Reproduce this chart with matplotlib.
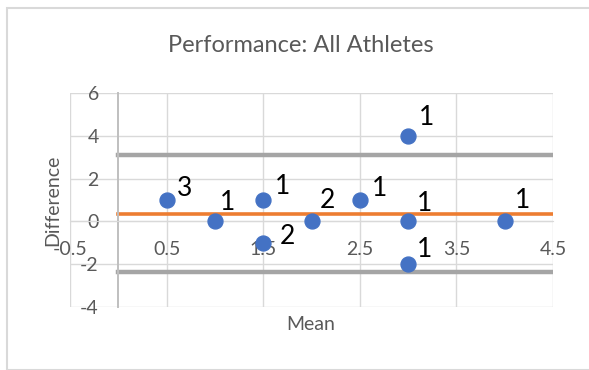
import numpy as np
import matplotlib.pyplot as plt
from matplotlib.patches import Rectangle

# Bland-Altman points: mean of the two measurements vs. their difference,
# with the number of athletes sharing each point
mean_vals = [0.5, 1.0, 1.5, 1.5, 2.0, 2.5, 3.0, 3.0, 3.0, 4.0]
diff_vals = [1, 0, 1, -1, 0, 1, 4, 0, -2, 0]
counts = [3, 1, 1, 2, 2, 1, 1, 1, 1, 1]

# bias and 95% limits of agreement over all athletes
all_diffs = np.repeat(diff_vals, counts)
bias = all_diffs.mean()
sd = all_diffs.std(ddof=1)
upper_loa = bias + 1.96 * sd
lower_loa = bias - 1.96 * sd

# where each count label sits relative to its point (pixels)
label_offsets = [(18, 11), (13, 19), (19, 13), (24, 6), (16, 21),
                 (20, 11), (18, 18), (16, 18), (16, 15), (18, 21)]

plt.rcParams['font.family'] = ['Lato', 'DejaVu Sans']
plt.rcParams['axes.unicode_minus'] = False
text_grey = '#595959'
grid_grey = '#d9d9d9'

fig = plt.figure(figsize=(5.89, 3.70), dpi=100)
ax = fig.add_axes([70 / 589, 1 - 307 / 370, 483 / 589, 214 / 370])

ax.set_xlim(-0.5, 4.5)
ax.set_ylim(-4, 6)
ax.set_xticks(np.arange(-0.5, 4.6, 1))
ax.set_yticks(np.arange(-4, 7, 2))
ax.set_xticklabels([f'{v:g}' for v in np.arange(-0.5, 4.6, 1)])
ax.grid(True, color=grid_grey, linewidth=1.0, zorder=0)
ax.set_axisbelow(True)

for side in ['top', 'right']:
    ax.spines[side].set_visible(False)
ax.spines['bottom'].set_position(('data', 0))
ax.spines['bottom'].set_color(grid_grey)
ax.spines['left'].set_position(('data', 0))
ax.spines['left'].set_color('#bfbfbf')
ax.spines['left'].set_linewidth(1.4)
ax.tick_params(axis='x', length=0, pad=14, labelsize=14, colors=text_grey)
ax.tick_params(axis='y', length=0, pad=14, labelsize=14, colors=text_grey)

# limits of agreement and bias lines
ax.plot([0, 4.5], [upper_loa, upper_loa], color='#a5a5a5', linewidth=3.2, zorder=2)
ax.plot([0, 4.5], [lower_loa, lower_loa], color='#a5a5a5', linewidth=3.2, zorder=2)
ax.plot([0, 4.5], [bias, bias], color='#ed7d31', linewidth=2.6, zorder=2)

ax.scatter(mean_vals, diff_vals, s=115, color='#4472c4', zorder=3, clip_on=False)
for x, y, n, off in zip(mean_vals, diff_vals, counts, label_offsets):
    ax.annotate(str(n), (x, y), xytext=off, textcoords='offset pixels',
                ha='center', va='center', fontsize=19, color='black', zorder=4)

fig.text(301 / 589, 1 - 45 / 370, 'Performance: All Athletes', ha='center',
         va='center', fontsize=17, color=text_grey)
fig.text(311 / 589, 1 - 325 / 370, 'Mean', ha='center', va='center',
         fontsize=14, color=text_grey)
fig.text(53 / 589, 1 - 200 / 370, 'Difference', ha='center', va='center',
         rotation=90, fontsize=14, color=text_grey)

# chart frame
fig.patches.append(Rectangle((6.5 / 589, 1 - 369.5 / 370), 600 / 589, 362 / 370,
                             transform=fig.transFigure, fill=False,
                             edgecolor=grid_grey, linewidth=1.5))

fig.savefig('out.png', dpi=100)
